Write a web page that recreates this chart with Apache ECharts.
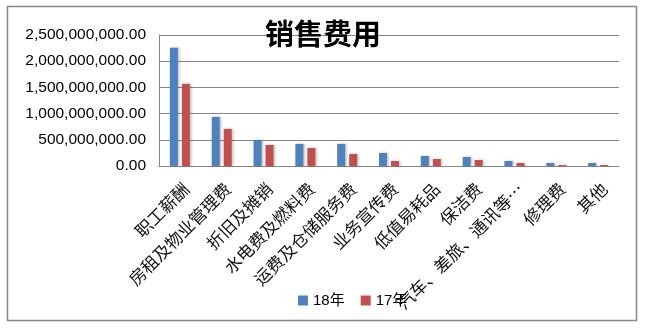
<!DOCTYPE html>
<html>
<head>
<meta charset="utf-8">
<script src="https://cdn.jsdelivr.net/npm/echarts@6/dist/echarts.min.js"></script>
<style>
html,body{margin:0;padding:0;background:#fff;}
#chart{width:646px;height:329px;}
</style>
</head>
<body>
<div id="chart"></div>
<script>
const titleText = '销售费用';
const categories = ['职工薪酬','房租及物业管理费','折旧及摊销','水电费及燃料费','运费及仓储服务费','业务宣传费','低值易耗品','保洁费','汽车、差旅、通讯等…','修理费','其他'];
const seriesNames = ['18年','17年'];
const values18 = [2256000000, 937000000, 497000000, 421000000, 421000000, 249000000, 191000000, 172000000, 96000000, 57000000, 57000000];
const values17 = [1568000000, 707000000, 401000000, 344000000, 229000000, 96000000, 134000000, 115000000, 57000000, 19000000, 19000000];
const yMin = 0, yMax = 2500000000, yInterval = 500000000;

function fmt(v){
  const parts = Number(v).toFixed(2).split('.');
  parts[0] = parts[0].replace(/\B(?=(\d{3})+(?!\d))/g, ',');
  return parts.join('.');
}

const chart = echarts.init(document.getElementById('chart'));
const shadow = {shadowBlur: 3, shadowColor: 'rgba(0,0,0,0.25)', shadowOffsetX: 1.5, shadowOffsetY: 0};
chart.setOption({
  animation: false,
  backgroundColor: '#fff',
  title: {
    text: titleText, left: 'center', top: 14,
    textStyle: {fontFamily: 'Noto Sans CJK SC', fontSize: 29, fontWeight: 'bold', color: '#000'}
  },
  legend: {
    data: seriesNames, left: 293, top: 288,
    itemWidth: 10, itemHeight: 10, itemGap: 16, icon: 'rect',
    textStyle: {fontFamily: 'Liberation Sans, Noto Sans CJK SC', fontSize: 15, color: '#000'}
  },
  grid: {left: 159, top: 35, right: 27, bottom: 163, containLabel: false},
  xAxis: {
    type: 'category', data: categories,
    axisLine: {show: true, lineStyle: {color: '#868686', width: 1}},
    axisTick: {show: false},
    axisLabel: {
      interval: 0, rotate: 45, margin: 14, verticalAlign: 'top',
      fontFamily: 'Noto Sans CJK SC', fontSize: 17, color: '#111'
    }
  },
  yAxis: {
    type: 'value', min: yMin, max: yMax, interval: yInterval,
    axisLine: {show: true, lineStyle: {color: '#868686', width: 1}},
    axisTick: {show: false},
    splitLine: {show: true, lineStyle: {color: '#868686', width: 1}},
    axisLabel: {
      margin: 13, formatter: fmt,
      fontFamily: 'Liberation Sans', fontSize: 15.5, color: '#000'
    }
  },
  series: [
    {name: seriesNames[0], type: 'bar', data: values18, barWidth: 8, barGap: '50%',
     itemStyle: Object.assign({color: '#4F81BD'}, shadow)},
    {name: seriesNames[1], type: 'bar', data: values17, barWidth: 8, barGap: '50%',
     itemStyle: Object.assign({color: '#C0504D'}, shadow)}
  ],
  graphic: [{
    type: 'rect', z: -1, silent: true,
    shape: {x: 7.5, y: 6.5, width: 629, height: 314},
    style: {fill: 'none', stroke: '#868686', lineWidth: 1.5}
  }]
});
</script>
</body>
</html>
